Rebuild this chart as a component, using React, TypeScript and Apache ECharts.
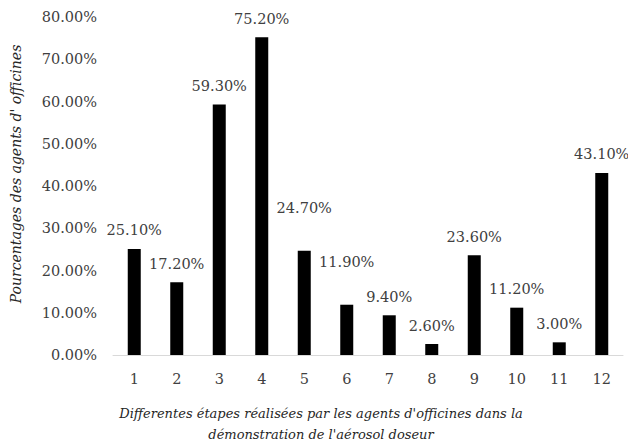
import React, { useEffect, useRef } from "react";
import * as echarts from "echarts";

const categories = ["1", "2", "3", "4", "5", "6", "7", "8", "9", "10", "11", "12"];
const values = [25.1, 17.2, 59.3, 75.2, 24.7, 11.9, 9.4, 2.6, 23.6, 11.2, 3.0, 43.1];
const labelOffsets = [0, 0, 0, 0, -24, -24, 0, 0, 0, 0, 0, 0];
const xTitle = "Differentes étapes réalisées par les agents d'officines dans la\ndémonstration de l'aérosol doseur";
const yTitle = "Pourcentages des agents d' officines";

const FONT = "DejaVu Serif";

export default function App() {
  const ref = useRef<HTMLDivElement>(null);
  useEffect(() => {
    if (!ref.current) return;
    const chart = echarts.init(ref.current, null, { renderer: "svg" });
    chart.setOption({
      animation: false,
      backgroundColor: "#ffffff",
      textStyle: { fontFamily: FONT },
      grid: { left: 113, right: 5, top: 17, bottom: 91, containLabel: false },
      xAxis: {
        type: "category",
        data: categories,
        axisLine: { show: true, lineStyle: { color: "#d9d9d9", width: 1 } },
        axisTick: { show: false },
        axisLabel: { color: "#404040", fontFamily: FONT, fontSize: 14.5, margin: 16 },
      },
      yAxis: {
        type: "value",
        min: 0,
        max: 80,
        interval: 10,
        splitLine: { show: false },
        axisLine: { show: false },
        axisTick: { show: false },
        axisLabel: {
          color: "#404040",
          fontFamily: FONT,
          fontSize: 14.5,
          margin: 16,
          formatter: (v: number) => v.toFixed(2) + "%",
        },
      },
      series: [
        {
          type: "bar",
          barWidth: 13,
          data: values.map((v, i) => ({
            value: v,
            label: { offset: [0, labelOffsets[i]] },
          })),
          itemStyle: { color: "#000000" },
          label: {
            show: true,
            position: "top",
            distance: 11,
            color: "#404040",
            fontFamily: FONT,
            fontSize: 14.5,
            formatter: (p: any) => Number(p.value).toFixed(2) + "%",
          },
        },
      ],
      graphic: [
        {
          type: "text",
          x: 16,
          y: 174,
          rotation: Math.PI / 2,
          style: {
            text: yTitle,
            fill: "#262626",
            fontFamily: FONT,
            fontStyle: "italic",
            fontSize: 14,
            align: "center",
            verticalAlign: "middle",
          },
        },
        {
          type: "text",
          x: 321,
          y: 403,
          style: {
            text: xTitle,
            fill: "#262626",
            fontFamily: FONT,
            fontStyle: "italic",
            fontSize: 13,
            align: "center",
            verticalAlign: "top",
            lineHeight: 21,
          },
        },
      ],
    });
    return () => chart.dispose();
  }, []);
  return (
    <div
      ref={ref}
      style={{ position: "absolute", left: 0, top: 0, width: 628, height: 446 }}
    />
  );
}
